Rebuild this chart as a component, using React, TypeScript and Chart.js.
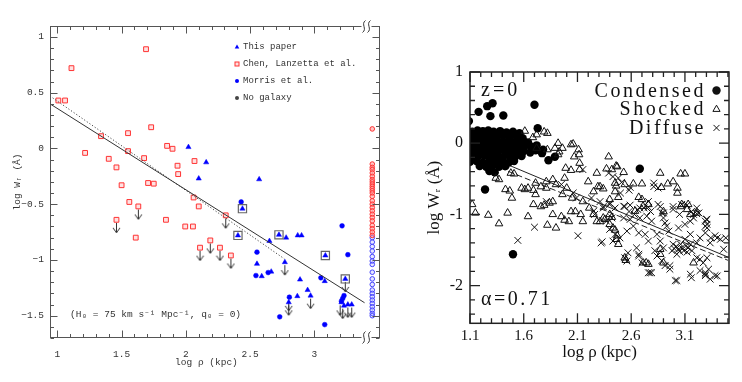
import React, { useEffect, useRef } from "react";
import { Chart, registerables } from "chart.js";
Chart.register(...registerables);

// ================= LEFT PANEL DATA =================
const leftXTicks = [1, 1.5, 2, 2.5, 3];
const leftXTickLabels = ["1", "1.5", "2", "2.5", "3"];
const leftYTicks = [1, 0.5, 0, -0.5, -1, -1.5];
const leftYTickLabels = ["1", "0.5", "0", "\u22120.5", "\u22121", "\u22121.5"];
const leftXTitle = "log \u03C1 (kpc)\u00A0\u00A0\u00A0";
const leftYTitle = "log W\u1D63 (\u00C5)";
const leftLegendLabels = ["This paper", "Chen, Lanzetta et al.", "Morris et al.", "No galaxy"];
const cosmologyNote = "(H\u2080 = 75 km s\u207B\u00B9 Mpc\u207B\u00B9, q\u2080 = 0)";

const thisPaper: number[][] = [
  [2.02, 0.012], [2.158, -0.125], [2.10, -0.27], [2.57, -0.277], [2.44, -0.54], [2.405, -0.78],
  [2.724, -0.775], [2.78, -0.80], [2.87, -0.78], [2.90, -0.78], [2.65, -0.83], [3.085, -0.96],
  [2.553, -1.035], [2.59, -1.146], [2.664, -1.105], [2.77, -1.02], [2.888, -1.176], [2.947, -1.27],
  [2.867, -1.325], [2.97, -1.32], [3.08, -1.19], [3.24, -1.17], [2.80, -1.38], [3.21, -1.38],
  [3.23, -1.41], [3.26, -1.40], [3.29, -1.40],
];
const chenLanzetta: number[][] = [
  [1.008, 0.43], [1.06, 0.43], [1.11, 0.72], [1.69, 0.89], [1.34, 0.11], [1.55, 0.137], [1.73, 0.19],
  [1.216, -0.04], [1.40, -0.093], [1.55, -0.024], [1.46, -0.17], [1.50, -0.33], [1.675, -0.087],
  [1.706, -0.31], [1.75, -0.316], [1.854, 0.023], [1.896, -0.003], [1.935, -0.155], [1.94, -0.23],
  [2.067, -0.113], [2.06, -0.44], [1.56, -0.48], [1.63, -0.52], [1.46, -0.64], [1.61, -0.80],
  [1.845, -0.64], [1.995, -0.70], [2.055, -0.70], [2.10, -0.52], [2.31, -0.60], [2.11, -0.89],
  [2.19, -0.825], [2.265, -0.89], [2.35, -0.96],
];
const morris: number[][] = [
  [2.43, -0.48], [2.553, -0.93], [2.545, -1.14], [2.64, -1.113], [2.73, -1.51], [2.805, -1.334],
  [3.215, -0.694], [3.26, -0.953], [3.05, -1.16], [3.08, -1.58], [3.23, -1.32], [3.22, -1.345], [3.21, -1.37],
];
const boxedPoints: number[][] = [[2.44, -0.54], [2.405, -0.78], [2.724, -0.775], [3.085, -0.96], [3.24, -1.17]];
const upperLimits: number[][] = [
  [1.46, -0.64], [1.63, -0.52], [2.11, -0.89], [2.19, -0.825], [2.265, -0.89], [2.35, -0.96], [2.31, -0.60],
  [2.77, -1.02], [2.80, -1.34], [2.80, -1.38], [2.97, -1.32], [3.24, -1.17], [3.20, -1.38], [3.22, -1.41],
  [3.26, -1.40], [3.29, -1.40],
];
const noGalaxyX = 3.45;
const noGalaxyRedY = [
  0.175, -0.14, -0.17, -0.19, -0.22, -0.25, -0.28, -0.30, -0.32, -0.34, -0.36, -0.38, -0.40, -0.43,
  -0.47, -0.50, -0.53, -0.56, -0.59, -0.62, -0.65, -0.69, -0.72, -0.75, -0.78,
];
const noGalaxyBlueY = [
  -0.80, -0.84, -0.88, -0.92, -0.97, -1.01, -1.04, -1.11, -1.17, -1.22, -1.27, -1.30, -1.33, -1.36,
  -1.39, -1.42, -1.45, -1.48, -1.50,
];
const leftSolidFit: number[][] = [[0.943, 0.40], [3.39, -1.384]];
const leftDottedFit: number[][] = [[0.943, 0.47], [2.766, -0.99]];

// ================= RIGHT PANEL DATA =================
const rightXTicks = [1.1, 1.6, 2.1, 2.6, 3.1];
const rightXTickLabels = ["1.1", "1.6", "2.1", "2.6", "3.1"];
const rightYTicks = [1, 0, -1, -2];
const rightYTickLabels = ["1", "0", "-1", "-2"];
const rightXTitle = "log \u03C1 (kpc)";
const rightYTitle = "log W\u1D63 (\u00C5)";
const rightLegendLabels = ["Condensed", "Shocked", "Diffuse"];
const redshiftLabel = "z=0";
const alphaLabel = "\u03B1=0.71";

const condensed: number[][] = [
  [1.09, 0.31], [1.18, 0.44], [1.26, 0.52], [1.31, 0.56], [1.29, 0.38], [1.41, 0.39], [1.70, 0.54],
  [1.73, 0.21], [1.24, -0.65], [1.50, -1.56], [2.68, -0.36], [1.89, -0.19], [1.77, -0.14], [1.83, -0.24],
  [1.12, 0.16], [1.17, 0.18], [1.22, 0.17], [1.27, 0.18], [1.32, 0.16], [1.38, 0.17], [1.44, 0.15], [1.50, 0.16], [1.56, 0.14],
  [1.10, 0.10], [1.15, 0.11], [1.20, 0.09], [1.25, 0.11], [1.30, 0.10], [1.35, 0.09], [1.41, 0.11], [1.47, 0.08], [1.53, 0.10], [1.59, 0.07],
  [1.09, 0.03], [1.14, 0.02], [1.19, 0.04], [1.24, 0.03], [1.29, 0.02], [1.34, 0.04], [1.40, 0.02], [1.46, 0.03], [1.52, 0.01], [1.58, 0.03], [1.64, 0.01],
  [1.10, -0.04], [1.16, -0.05], [1.21, -0.03], [1.27, -0.05], [1.32, -0.04], [1.38, -0.03], [1.43, -0.05], [1.49, -0.04], [1.55, -0.06], [1.61, -0.04], [1.67, -0.05], [1.72, -0.03],
  [1.09, -0.12], [1.14, -0.10], [1.20, -0.11], [1.25, -0.12], [1.31, -0.10], [1.36, -0.12], [1.42, -0.11], [1.48, -0.10], [1.54, -0.12], [1.60, -0.11], [1.66, -0.13], [1.71, -0.10], [1.78, -0.09],
  [1.11, -0.18], [1.17, -0.19], [1.23, -0.17], [1.28, -0.19], [1.34, -0.18], [1.40, -0.20], [1.46, -0.17], [1.52, -0.19], [1.58, -0.18],
  [1.10, -0.26], [1.16, -0.25], [1.22, -0.27], [1.28, -0.25], [1.34, -0.26], [1.40, -0.24], [1.46, -0.27], [1.51, -0.25],
  [1.19, -0.32], [1.25, -0.33], [1.31, -0.31], [1.37, -0.33], [1.43, -0.32], [1.28, -0.39], [1.33, -0.41],
];
const shocked: number[][] = [
  [1.61, 0.17], [1.79, 0.16], [1.82, 0.14], [1.685, 0.08], [1.72, 0.12], [1.92, 0.0], [1.96, -0.07], [2.06, -0.01],
  [2.11, -0.09], [2.115, -0.16], [1.82, -0.09], [1.93, -0.12], [1.72, -0.07], [1.89, -0.07], [1.92, -0.16], [2.04, -0.02], [2.07, -0.19],
  [2.39, -0.19], [2.47, -0.33], [2.37, -0.36], [2.42, -0.37], [2.46, -0.32], [2.53, -0.41], [2.28, -0.42], [1.99, -0.35],
  [2.04, -0.38], [2.12, -0.28], [2.12, -0.37],
  [2.87, -0.42], [3.06, -0.43], [3.10, -0.43], [2.99, -0.54], [2.94, -0.57], [3.03, -0.63], [2.88, -0.62], [3.03, -0.70],
  [2.70, -0.57], [2.54, -0.58], [2.62, -0.57], [2.45, -0.56], [2.46, -0.60], [2.31, -0.61], [2.34, -0.64], [2.29, -0.61],
  [2.45, -0.68], [2.48, -0.76], [2.40, -0.79], [2.67, -0.76], [2.70, -0.79], [2.90, -0.96], [3.06, -0.89], [3.12, -0.93], [3.15, -1.0],
  [1.34, -0.49], [1.37, -0.51], [1.48, -0.42], [1.51, -0.43], [1.43, -0.65], [1.47, -0.67], [1.49, -0.77], [1.58, -0.63],
  [1.61, -0.65], [1.64, -0.63], [1.69, -0.66], [1.71, -0.72], [1.71, -0.56], [1.76, -0.61], [1.81, -0.54], [1.69, -0.86],
  [1.76, -0.89], [1.79, -0.87], [1.84, -0.84], [1.87, -0.82], [1.87, -0.51], [1.90, -0.58], [1.98, -0.49], [1.81, -0.63],
  [1.96, -0.72], [2.00, -0.63], [2.05, -0.77], [2.20, -0.54], [2.25, -0.68], [2.15, -0.82], [2.21, -0.91], [2.25, -1.0],
  [1.87, -1.0], [1.95, -1.03], [1.12, -0.86], [1.15, -0.98], [1.27, -1.01], [1.45, -0.98], [1.37, -1.13], [1.64, -1.03],
  [1.82, -1.15], [1.90, -1.19], [1.98, -1.08], [2.02, -1.10], [2.04, -0.96], [2.08, -0.96], [2.13, -1.0], [2.15, -1.10],
  [2.28, -1.10], [2.31, -1.10], [2.34, -1.05], [2.42, -1.04], [2.40, -1.0], [2.355, -1.07], [2.40, -1.14], [2.43, -1.19],
  [2.45, -1.22], [2.47, -1.30], [2.46, -1.35], [2.48, -1.42],
  [2.635, -0.955], [2.71, -0.885], [2.76, -0.86], [3.07, -0.86], [3.13, -0.86], [3.21, -0.98], [2.87, -1.56], [2.87, -1.49],
  [2.54, -1.61], [2.55, -1.645], [2.71, -1.68], [2.74, -1.68], [2.76, -1.70], [2.90, -1.68], [3.18, -1.68],
];
const diffuse: number[][] = [
  [1.545, -1.365], [1.70, -1.18], [2.105, -1.30], [2.33, -1.385], [2.15, -0.37], [2.81, -0.61], [2.85, -0.63],
  [2.39, -0.42], [2.43, -0.47], [2.48, -0.49], [2.51, -0.55], [2.59, -0.62], [2.58, -0.66], [2.81, -0.56], [2.23, -0.77],
  [2.31, -0.82], [2.34, -0.89], [2.40, -0.84], [2.45, -0.91], [2.50, -0.70], [2.54, -0.89], [2.58, -0.96], [2.63, -1.0],
  [2.66, -0.93], [2.72, -0.91], [2.76, -0.82], [2.78, -0.96], [2.87, -0.89], [2.90, -0.98], [2.99, -0.93], [3.05, -1.0],
  [3.16, -0.96], [3.21, -0.91], [3.30, -1.07],
  [2.34, -0.91], [2.40, -0.86], [2.53, -0.885], [2.59, -0.87], [2.68, -0.91], [2.76, -0.90], [2.85, -0.86], [2.885, -0.98],
  [2.90, -1.05], [2.915, -1.12], [2.745, -1.025], [2.79, -1.095], [2.68, -1.05], [2.59, -1.07], [2.53, -1.05], [2.42, -1.05],
  [2.37, -1.095], [2.40, -1.21], [2.45, -1.28], [2.32, -1.40], [2.43, -1.375], [2.495, -1.33], [2.56, -1.235], [2.62, -1.165],
  [2.67, -1.26], [2.73, -1.28], [2.76, -1.375], [2.84, -1.28], [2.87, -1.375], [2.90, -1.47], [2.82, -1.51], [2.84, -1.585],
  [2.885, -1.65], [2.915, -1.72], [2.96, -1.77], [3.025, -1.93], [2.76, -1.82], [2.775, -1.82], [2.65, -1.47], [2.67, -1.56],
  [2.57, -1.54], [2.54, -1.61], [2.56, -1.655], [2.67, -1.585], [2.70, -1.68], [2.93, -1.165], [2.95, -1.235], [3.04, -1.19],
  [3.10, -1.14], [3.15, -1.095], [3.18, -1.0], [3.23, -0.98], [3.15, -1.28], [3.10, -1.35], [3.06, -1.42], [3.04, -1.49],
  [3.09, -1.51], [3.13, -1.47], [3.165, -1.51], [3.21, -1.40], [3.24, -1.33], [3.29, -1.26], [3.305, -1.07], [3.305, -1.14],
  [3.305, -1.19], [3.335, -1.40], [3.38, -1.30], [3.43, -1.35], [3.48, -1.33], [3.46, -1.49], [3.24, -1.63], [3.27, -1.68],
  [3.32, -1.77], [3.29, -1.84], [3.24, -1.79], [3.15, -1.84], [3.21, -1.61], [3.305, -1.61], [3.40, -1.865], [3.335, -1.91],
  [2.96, -1.72], [3.025, -1.56], [2.99, -1.42], [2.98, -1.51], [3.15, -1.42],
  [3.21, -0.99], [3.18, -1.05], [3.07, -0.86], [2.99, -0.89], [3.12, -0.87], [3.40, -1.33], [3.34, -1.33], [3.29, -1.165],
  [3.29, -1.095], [3.01, -1.93], [2.79, -1.82], [3.16, -1.89], [3.29, -1.82], [3.38, -1.86], [3.29, -1.86],
  [1.81, -0.82], [1.95, -0.58], [2.06, -0.70], [2.09, -0.77], [2.25, -0.955], [2.26, -1.0],
  [3.02, -1.45], [3.07, -1.47], [3.11, -1.44], [3.05, -1.52], [3.12, -1.53], [3.00, -1.48],
];
const rightSolidFit: number[][] = [[1.1, -0.08], [3.5, -1.60]];
const rightDashedFit: number[][] = [[1.3, -0.30], [3.5, -1.645]];

// ================= HELPERS =================
const FONT_L = '"Liberation Mono", "DejaVu Sans Mono", monospace';
const FONT_R = '"Liberation Serif", "Times New Roman", serif';
const xy = (arr: number[][]) => arr.map(([x, y]) => ({ x, y }));
const colXY = (x: number, ys: number[]) => ys.map((y) => ({ x, y }));

function makeArrow(len: number, color: string) {
  const w = 9;
  const h = 2 * len + 2;
  const c = document.createElement("canvas");
  c.width = w;
  c.height = h;
  const g = c.getContext("2d")!;
  const cx = 4.5;
  const cy = h / 2;
  g.strokeStyle = color;
  g.lineWidth = 1;
  g.beginPath();
  g.moveTo(cx, cy + 3);
  g.lineTo(cx, cy + len);
  g.moveTo(cx - 3.5, cy + len - 5);
  g.lineTo(cx, cy + len);
  g.lineTo(cx + 3.5, cy + len - 5);
  g.stroke();
  return c;
}

const leftDecor = {
  id: "leftDecor",
  afterDraw(chart: any) {
    const { ctx, chartArea: a, scales } = chart;
    const sx = scales.x;
    const sy = scales.y;
    const L = Math.round(a.left) + 0.5;
    const R = Math.round(a.right) - 0.5;
    const T = Math.round(a.top) + 0.5;
    const B = Math.round(a.bottom) - 0.5;
    ctx.save();
    ctx.strokeStyle = "#555";
    ctx.lineWidth = 1;
    ctx.strokeRect(L, T, R - L, B - T);
    ctx.beginPath();
    for (let i = 10; i <= 33; i++) {
      const px = Math.round(sx.getPixelForValue(i / 10)) + 0.5;
      const len = i % 5 === 0 ? 7 : 3.5;
      ctx.moveTo(px, B);
      ctx.lineTo(px, B - len);
      ctx.moveTo(px, T);
      ctx.lineTo(px, T + len);
    }
    for (let i = -17; i <= 10; i++) {
      const py = Math.round(sy.getPixelForValue(i / 10)) + 0.5;
      const len = i % 5 === 0 ? 7 : 3.5;
      ctx.moveTo(L, py);
      ctx.lineTo(L + len, py);
      ctx.moveTo(R, py);
      ctx.lineTo(R - len, py);
    }
    ctx.stroke();
    // axis break symbols
    const bx = sx.getPixelForValue(3.405);
    for (const y0 of [T, B]) {
      ctx.fillStyle = "#fff";
      ctx.fillRect(bx - 5, y0 - 1.5, 10, 3);
      ctx.strokeStyle = "#333";
      ctx.lineWidth = 1;
      for (const dx of [-2.5, 2.5]) {
        ctx.beginPath();
        ctx.moveTo(bx + dx + 1.5, y0 - 6);
        ctx.bezierCurveTo(bx + dx - 3.5, y0 - 2.5, bx + dx + 3.5, y0 + 2.5, bx + dx - 1.5, y0 + 6);
        ctx.stroke();
      }
    }
    // legend
    ctx.font = `9px ${FONT_L}`;
    ctx.textBaseline = "middle";
    ctx.textAlign = "left";
    const tx = a.left + 193;
    const mx = a.left + 187;
    leftLegendLabels.forEach((lab, i) => {
      const yy = a.top + 21 + i * 17;
      ctx.fillStyle = "#333";
      ctx.fillText(lab, tx, yy);
      if (i === 0) {
        ctx.fillStyle = "#00f";
        ctx.beginPath();
        ctx.moveTo(mx, yy - 2.5);
        ctx.lineTo(mx + 2.3, yy + 1.5);
        ctx.lineTo(mx - 2.3, yy + 1.5);
        ctx.closePath();
        ctx.fill();
      } else if (i === 1) {
        ctx.strokeStyle = "#f33";
        ctx.fillStyle = "rgba(255,170,170,0.4)";
        ctx.fillRect(mx - 2, yy - 2, 4, 4);
        ctx.strokeRect(mx - 2, yy - 2, 4, 4);
      } else {
        ctx.fillStyle = i === 2 ? "#00f" : "#444";
        ctx.beginPath();
        ctx.arc(mx, yy, 2, 0, Math.PI * 2);
        ctx.fill();
      }
    });
    ctx.fillStyle = "#333";
    ctx.font = `9.5px ${FONT_L}`;
    ctx.fillText(cosmologyNote, a.left + 20, a.bottom - 24);
    ctx.restore();
  },
};

const rightDecor = {
  id: "rightDecor",
  afterDraw(chart: any) {
    const { ctx, chartArea: a, scales } = chart;
    const sx = scales.x;
    const sy = scales.y;
    const L = a.left;
    const R = a.right;
    const T = a.top;
    const B = a.bottom;
    ctx.save();
    ctx.strokeStyle = "#222";
    ctx.lineWidth = 1.5;
    ctx.strokeRect(L, T, R - L, B - T);
    ctx.lineWidth = 1.3;
    ctx.beginPath();
    for (let i = 11; i <= 35; i++) {
      const px = sx.getPixelForValue(i / 10);
      const len = (i - 11) % 5 === 0 ? 10 : 5;
      ctx.moveTo(px, B);
      ctx.lineTo(px, B - len);
      ctx.moveTo(px, T);
      ctx.lineTo(px, T + len);
    }
    for (let i = -12; i <= 5; i++) {
      const py = sy.getPixelForValue(i * 0.2);
      const len = i % 5 === 0 ? 10 : 5;
      ctx.moveTo(L, py);
      ctx.lineTo(L + len, py);
      ctx.moveTo(R, py);
      ctx.lineTo(R - len, py);
    }
    ctx.stroke();
    // legend
    ctx.font = `20px ${FONT_R}`;
    (ctx as any).letterSpacing = "2.5px";
    ctx.textBaseline = "middle";
    ctx.textAlign = "right";
    const mx = R - 12.5;
    rightLegendLabels.forEach((lab, i) => {
      const yy = T + 18.5 + i * 18.7;
      ctx.fillStyle = "#111";
      ctx.fillText(lab, R - 23, yy + 1);
      ctx.strokeStyle = "#111";
      ctx.lineWidth = 1;
      if (i === 0) {
        ctx.beginPath();
        ctx.arc(mx, yy, 4.2, 0, Math.PI * 2);
        ctx.fill();
      } else if (i === 1) {
        ctx.beginPath();
        ctx.moveTo(mx, yy - 4);
        ctx.lineTo(mx + 3.6, yy + 2.2);
        ctx.lineTo(mx - 3.6, yy + 2.2);
        ctx.closePath();
        ctx.stroke();
      } else {
        ctx.beginPath();
        ctx.moveTo(mx - 3, yy - 3);
        ctx.lineTo(mx + 3, yy + 3);
        ctx.moveTo(mx + 3, yy - 3);
        ctx.lineTo(mx - 3, yy + 3);
        ctx.stroke();
      }
    });
    ctx.textAlign = "left";
    ctx.fillStyle = "#111";
    (ctx as any).letterSpacing = "3px";
    ctx.fillText(redshiftLabel, L + 11, T + 19);
    (ctx as any).letterSpacing = "2.5px";
    ctx.fillText(alphaLabel, L + 11, B - 24);
    (ctx as any).letterSpacing = "0px";
    ctx.restore();
  },
};

function leftConfig(arrow: HTMLCanvasElement): any {
  const tickFont = { family: FONT_L, size: 9.5 };
  return {
    type: "scatter",
    data: {
      datasets: [
        { data: xy(leftSolidFit), showLine: true, borderColor: "#333", borderWidth: 1, pointRadius: 0 },
        { data: xy(leftDottedFit), showLine: true, borderColor: "#444", borderWidth: 1, borderDash: [1.2, 2], pointRadius: 0 },
        { data: xy(chenLanzetta), pointStyle: "rect", pointRadius: 3.4, borderWidth: 1, borderColor: "#f33", backgroundColor: "rgba(255,170,170,0.35)" },
        { data: xy(boxedPoints), pointStyle: "rect", pointRadius: 5.8, borderWidth: 1.2, borderColor: "#666", backgroundColor: "rgba(0,0,0,0)" },
        { data: xy(thisPaper), pointStyle: "triangle", pointRadius: 3, borderWidth: 0.5, borderColor: "#00f", backgroundColor: "#00f" },
        { data: xy(morris), pointStyle: "circle", pointRadius: 2.4, borderWidth: 0.5, borderColor: "#00f", backgroundColor: "#00f" },
        { data: xy(upperLimits), pointStyle: arrow, pointRadius: 5 },
        { data: colXY(noGalaxyX, noGalaxyRedY), pointStyle: "circle", pointRadius: 2.3, borderWidth: 1, borderColor: "#f33", backgroundColor: "rgba(255,140,140,0.5)" },
        { data: colXY(noGalaxyX, noGalaxyBlueY), pointStyle: "circle", pointRadius: 2.3, borderWidth: 1, borderColor: "#44f", backgroundColor: "rgba(170,170,255,0.3)" },
      ],
    },
    options: {
      animation: false,
      responsive: false,
      maintainAspectRatio: false,
      events: [],
      layout: { padding: { left: 0, top: 26, right: 12, bottom: 0 } },
      plugins: { legend: { display: false }, tooltip: { enabled: false } },
      scales: {
        x: {
          type: "linear",
          min: 0.943,
          max: 3.51,
          grid: { display: false, drawTicks: false },
          border: { display: false },
          afterBuildTicks: (s: any) => { s.ticks = leftXTicks.map((v) => ({ value: v })); },
          afterFit: (s: any) => { s.height = 44; },
          ticks: {
            padding: 11, color: "#333", font: tickFont, maxRotation: 0, autoSkip: false,
            callback: (v: number) => leftXTickLabels[leftXTicks.indexOf(v)],
          },
          title: { display: true, text: leftXTitle, color: "#333", font: tickFont, padding: { top: 0, bottom: 14 } },
        },
        y: {
          type: "linear",
          min: -1.7,
          max: 1.098,
          grid: { display: false, drawTicks: false },
          border: { display: false },
          afterBuildTicks: (s: any) => { s.ticks = leftYTicks.map((v) => ({ value: v })); },
          afterFit: (s: any) => { s.width = 50; },
          ticks: {
            padding: 6, color: "#333", font: tickFont, autoSkip: false,
            callback: (v: number) => leftYTickLabels[leftYTicks.indexOf(v)],
          },
          title: { display: true, text: leftYTitle, color: "#333", font: tickFont, padding: { top: 12, bottom: 0 } },
        },
      },
    },
    plugins: [leftDecor],
  };
}

function rightConfig(): any {
  return {
    type: "scatter",
    data: {
      datasets: [
        { data: xy(diffuse), pointStyle: "crossRot", pointRadius: 4.8, borderWidth: 1, borderColor: "#111" },
        { data: xy(shocked), pointStyle: "triangle", pointRadius: 4.4, borderWidth: 1, borderColor: "#111", backgroundColor: "rgba(255,255,255,0)" },
        { data: xy(condensed), pointStyle: "circle", pointRadius: 4.2, borderWidth: 0, backgroundColor: "#000" },
        { data: xy(rightSolidFit), showLine: true, borderColor: "#222", borderWidth: 1, pointRadius: 0 },
        { data: xy(rightDashedFit), showLine: true, borderColor: "#222", borderWidth: 1, borderDash: [6, 3], pointRadius: 0 },
      ],
    },
    options: {
      animation: false,
      responsive: false,
      maintainAspectRatio: false,
      events: [],
      layout: { padding: { left: 0, top: 72, right: 13, bottom: 0 } },
      plugins: { legend: { display: false }, tooltip: { enabled: false } },
      scales: {
        x: {
          type: "linear",
          min: 1.1,
          max: 3.51,
          grid: { display: false, drawTicks: false },
          border: { display: false },
          afterBuildTicks: (s: any) => { s.ticks = rightXTicks.map((v) => ({ value: v })); },
          afterFit: (s: any) => { s.height = 58.7; },
          ticks: {
            padding: 4, color: "#111", font: { family: FONT_R, size: 15 }, maxRotation: 0, autoSkip: false,
            callback: (v: number) => rightXTickLabels[rightXTicks.indexOf(v)],
          },
          title: { display: true, text: rightXTitle, color: "#111", font: { family: FONT_R, size: 17 }, padding: { top: 0, bottom: 19 } },
        },
        y: {
          type: "linear",
          min: -2.53,
          max: 1,
          grid: { display: false, drawTicks: false },
          border: { display: false },
          afterBuildTicks: (s: any) => { s.ticks = rightYTicks.map((v) => ({ value: v })); },
          afterFit: (s: any) => { s.width = 78; },
          ticks: {
            padding: 7, color: "#111", font: { family: FONT_R, size: 16 }, autoSkip: false,
            callback: (v: number) => rightYTickLabels[rightYTicks.indexOf(v)],
          },
          title: { display: true, text: rightYTitle, color: "#111", font: { family: FONT_R, size: 17 }, padding: { top: 32, bottom: 0 } },
        },
      },
    },
    plugins: [rightDecor],
  };
}

export default function App() {
  const leftRef = useRef<HTMLCanvasElement>(null);
  const rightRef = useRef<HTMLCanvasElement>(null);
  useEffect(() => {
    document.body.style.margin = "0";
    const arrow = makeArrow(13, "#333");
    const lc = new Chart(leftRef.current as HTMLCanvasElement, leftConfig(arrow));
    const rc = new Chart(rightRef.current as HTMLCanvasElement, rightConfig());
    return () => {
      lc.destroy();
      rc.destroy();
    };
  }, []);
  return (
    <div style={{ position: "relative", width: 742, height: 382, background: "#fff", overflow: "hidden" }}>
      <canvas ref={leftRef} width={392} height={382} style={{ position: "absolute", left: 0, top: 0, width: 392, height: 382 }} />
      <canvas ref={rightRef} width={350} height={382} style={{ position: "absolute", left: 392, top: 0, width: 350, height: 382 }} />
    </div>
  );
}
